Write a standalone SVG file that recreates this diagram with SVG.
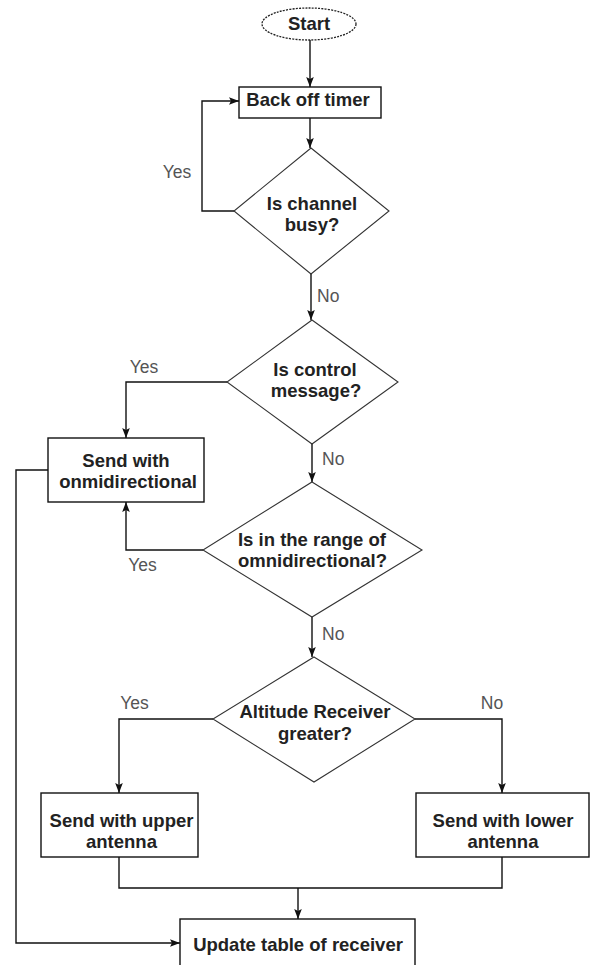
<svg xmlns="http://www.w3.org/2000/svg" width="592" height="965" viewBox="0 0 592 965">
<style>
.node rect{fill:#fff;stroke:#111;stroke-width:1.4}
.node polygon{fill:#fff;stroke:#333;stroke-width:1.1}
.node ellipse{fill:#fff;stroke:#222;stroke-width:1.3;stroke-dasharray:2 1.2}
.t{font-family:"Liberation Sans",Arial,sans-serif;font-size:18.5px;font-weight:bold;fill:#222;text-anchor:middle}
.lbl{font-family:"Liberation Sans",Arial,sans-serif;font-size:17.5px;fill:#555}
.c{fill:none;stroke:#111;stroke-width:1.4}
</style>
<defs>
<marker id="ah" markerUnits="userSpaceOnUse" markerWidth="10" markerHeight="10" viewBox="0 0 10 10" refX="10" refY="5" orient="auto">
<path d="M0,1.2 L10,5 L0,8.8 L2,5 Z" fill="#111"/>
</marker>
</defs>
<g id="connectors">
<path class="c" d="M310,40 V87" marker-end="url(#ah)"/>
<path class="c" d="M310,118 V148" marker-end="url(#ah)"/>
<path class="c" d="M234,211 H202 V101 H239" marker-end="url(#ah)"/>
<path class="c" d="M311,274 V320" marker-end="url(#ah)"/>
<path class="c" d="M227,382 H126 V438" marker-end="url(#ah)"/>
<path class="c" d="M312,444 V482" marker-end="url(#ah)"/>
<path class="c" d="M203,550 H126 V502" marker-end="url(#ah)"/>
<path class="c" d="M312,617 V657" marker-end="url(#ah)"/>
<path class="c" d="M213,719 H119 V793" marker-end="url(#ah)"/>
<path class="c" d="M415,719 H502 V793" marker-end="url(#ah)"/>
<path class="c" d="M119,857 V888 H502 V857"/>
<path class="c" d="M298,888 V919" marker-end="url(#ah)"/>
<path class="c" d="M48,470 H16 V943 H180" marker-end="url(#ah)"/>
<text class="lbl" x="177" y="178" text-anchor="middle">Yes</text>
<text class="lbl" x="317" y="302">No</text>
<text class="lbl" x="144" y="373" text-anchor="middle">Yes</text>
<text class="lbl" x="322" y="465">No</text>
<text class="lbl" x="142.5" y="571" text-anchor="middle">Yes</text>
<text class="lbl" x="322" y="640">No</text>
<text class="lbl" x="134.5" y="709" text-anchor="middle">Yes</text>
<text class="lbl" x="492" y="709" text-anchor="middle">No</text>
</g>
<g id="start" class="node">
<ellipse cx="309" cy="24" rx="47" ry="16"/>
<text class="t" x="309" y="30">Start</text>
</g>
<g id="backoff" class="node">
<rect x="239" y="87" width="142" height="31"/>
<text class="t" x="308" y="106">Back off timer</text>
</g>
<g id="channel" class="node">
<polygon points="311,148 389,211 311,274 234,211"/>
<text class="t" x="312" y="210">Is channel</text>
<text class="t" x="312" y="231">busy?</text>
</g>
<g id="control" class="node">
<polygon points="312,320 398,382 312,444 227,382"/>
<text class="t" x="315" y="376">Is control</text>
<text class="t" x="316" y="397">message?</text>
</g>
<g id="omni" class="node">
<rect x="48" y="438" width="156" height="64"/>
<text class="t" x="126" y="467">Send with</text>
<text class="t" x="128" y="488">onmidirectional</text>
</g>
<g id="range" class="node">
<polygon points="312,482 422,550 312,617 203,550"/>
<text class="t" x="312" y="546">Is in the range of</text>
<text class="t" x="312.5" y="567">omnidirectional?</text>
</g>
<g id="altitude" class="node">
<polygon points="314,657 415,719 314,782 213,719"/>
<text class="t" x="315" y="718">Altitude Receiver</text>
<text class="t" x="315" y="740">greater?</text>
</g>
<g id="upper" class="node">
<rect x="41" y="793" width="157" height="64"/>
<text class="t" x="121.5" y="827">Send with upper</text>
<text class="t" x="121.5" y="848">antenna</text>
</g>
<g id="lower" class="node">
<rect x="416" y="793" width="173" height="64"/>
<text class="t" x="503" y="827">Send with lower</text>
<text class="t" x="503" y="848">antenna</text>
</g>
<g id="update" class="node">
<rect x="180" y="919" width="235" height="60"/>
<text class="t" x="298" y="951">Update table of receiver</text>
</g>
</svg>
